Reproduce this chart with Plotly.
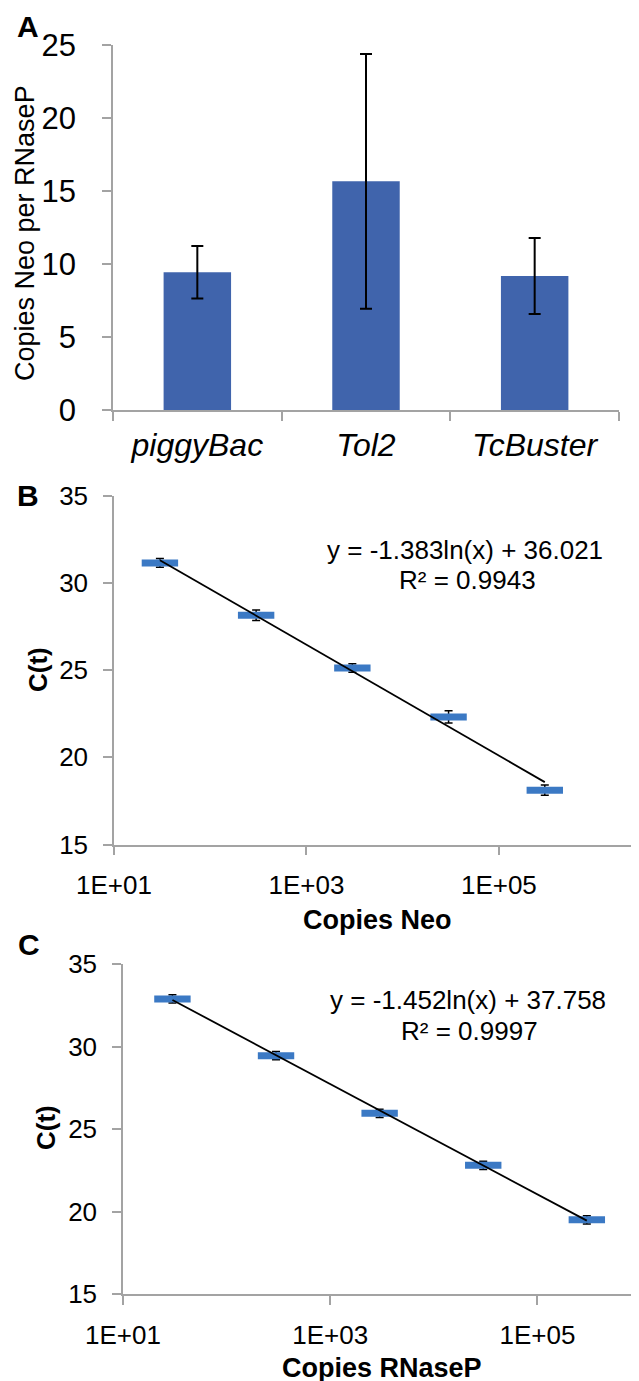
import plotly.graph_objects as go
import numpy as np

W, H = 639, 1381
FONT = "Arial, Liberation Sans, Helvetica, sans-serif"

# Panel A data
categories = ["piggyBac", "Tol2", "TcBuster"]
copies_ratio = [9.43, 15.66, 9.18]
copies_err = [1.8, 8.73, 2.6]

# Panel B data
neo_copies = [30, 300, 3000, 30000, 300000]
neo_ct = [31.16, 28.16, 25.13, 22.32, 18.12]
neo_err = [0.25, 0.3, 0.25, 0.35, 0.3]
neo_fit = [-1.383, 36.021]  # slope, intercept for ln(x)

# Panel C data
rnasep_copies = [30, 300, 3000, 30000, 300000]
rnasep_ct = [32.88, 29.44, 25.95, 22.8, 19.5]
rnasep_err = [0.25, 0.25, 0.25, 0.25, 0.25]
rnasep_fit = [-1.452, 37.758]

AXIS_COLOR = "#A3A3A3"
BAR_COLOR = "#4064AC"
MARK_COLOR = "#3B79C4"


def px_x(p):
    return p / W


def px_y(p):
    return 1 - p / H


fig = go.Figure()

# Panel A bars
fig.add_trace(go.Bar(
    x=categories, y=copies_ratio, width=0.4,
    marker=dict(color=BAR_COLOR, line=dict(width=0)),
    error_y=dict(type="data", array=copies_err, color="black", thickness=2, width=6),
    xaxis="x", yaxis="y", showlegend=False,
))


def add_curve(xs, ys, errs, fit, xa, ya):
    xl = [xs[0], xs[-1]]
    yl = [fit[0] * np.log(v) + fit[1] for v in xl]
    fig.add_trace(go.Scatter(
        x=xs, y=ys, mode="markers",
        marker=dict(symbol="line-ew", size=26, color=MARK_COLOR,
                    line=dict(color=MARK_COLOR, width=7)),
        error_y=dict(type="data", array=errs, color="black", thickness=1.5, width=4),
        xaxis=xa, yaxis=ya, showlegend=False,
    ))
    fig.add_trace(go.Scatter(
        x=xl, y=yl, mode="lines", line=dict(color="black", width=1.8),
        xaxis=xa, yaxis=ya, showlegend=False,
    ))


add_curve(neo_copies, neo_ct, neo_err, neo_fit, "x2", "y2")
add_curve(rnasep_copies, rnasep_ct, rnasep_err, rnasep_fit, "x3", "y3")

common_axis = dict(showline=True, linecolor=AXIS_COLOR, linewidth=1.5,
                   showgrid=False, zeroline=False, ticks="outside",
                   tickcolor=AXIS_COLOR, tickwidth=1.5, ticklen=9,
                   automargin=False)

fig.update_layout(
    template="none",
    width=W, height=H, margin=dict(l=0, r=0, t=0, b=0, pad=0, autoexpand=False),
    paper_bgcolor="white", plot_bgcolor="white", showlegend=False,
    font=dict(family=FONT, color="black"),
    xaxis=dict(domain=[px_x(105), px_x(611)], anchor="y", type="category",
               tickson="boundaries", tickfont=dict(size=32, family=FONT),
               ticklabelstandoff=6,
               tickvals=categories,
               ticktext=["<i>%s</i>" % c for c in categories],
               **common_axis),
    yaxis=dict(domain=[px_y(402), px_y(37)], anchor="x", range=[0, 25],
               tickvals=[0, 5, 10, 15, 20, 25], tickfont=dict(size=31, family=FONT),
               ticklabelstandoff=20, **common_axis),
    xaxis2=dict(domain=[px_x(106), px_x(633)], anchor="y2", type="log",
                range=[1, 6.477], tickvals=[10, 1000, 100000],
                ticktext=["1E+01", "1E+03", "1E+05"],
                tickfont=dict(size=26, family=FONT), ticklabelstandoff=8,
                **common_axis),
    yaxis2=dict(domain=[px_y(836.5), px_y(488)], anchor="x2", range=[15, 35],
                tickvals=[15, 20, 25, 30, 35], tickfont=dict(size=26, family=FONT),
                ticklabelstandoff=10, **common_axis),
    xaxis3=dict(domain=[px_x(115), px_x(633)], anchor="y3", type="log",
                range=[1, 6], tickvals=[10, 1000, 100000],
                ticktext=["1E+01", "1E+03", "1E+05"],
                tickfont=dict(size=26, family=FONT), ticklabelstandoff=8,
                **common_axis),
    yaxis3=dict(domain=[px_y(1286), px_y(956)], anchor="x3", range=[15, 35],
                tickvals=[15, 20, 25, 30, 35], tickfont=dict(size=26, family=FONT),
                ticklabelstandoff=10, **common_axis),
)

annotations = [
    dict(text="<b>A</b>", x=px_x(20), y=px_y(18), size=30, angle=0),
    dict(text="<b>B</b>", x=px_x(20), y=px_y(487), size=30, angle=0),
    dict(text="<b>C</b>", x=px_x(21), y=px_y(936), size=30, angle=0),
    dict(text="Copies Neo per RNaseP", x=px_x(17), y=px_y(225), size=27, angle=-90),
    dict(text="<b>C(t)</b>", x=px_x(30), y=px_y(662), size=26, angle=-90),
    dict(text="<b>C(t)</b>", x=px_x(38), y=px_y(1120), size=26, angle=-90),
    dict(text="<b>Copies Neo</b>", x=px_x(369), y=px_y(912), size=27, angle=0),
    dict(text="<b>Copies RNaseP</b>", x=px_x(374), y=px_y(1360), size=27, angle=0),
    dict(text="y = -1.383ln(x) + 36.021", x=px_x(457), y=px_y(542), size=26, angle=0),
    dict(text="R² = 0.9943", x=px_x(460), y=px_y(572), size=26, angle=0),
    dict(text="y = -1.452ln(x) + 37.758", x=px_x(460), y=px_y(992), size=26, angle=0),
    dict(text="R² = 0.9997", x=px_x(461), y=px_y(1023), size=26, angle=0),
]
for a in annotations:
    fig.add_annotation(text=a["text"], x=a["x"], y=a["y"], xref="paper", yref="paper",
                       xanchor="center", yanchor="middle", showarrow=False,
                       textangle=a["angle"], font=dict(size=a["size"], family=FONT, color="black"))

fig.write_html("out.html")
